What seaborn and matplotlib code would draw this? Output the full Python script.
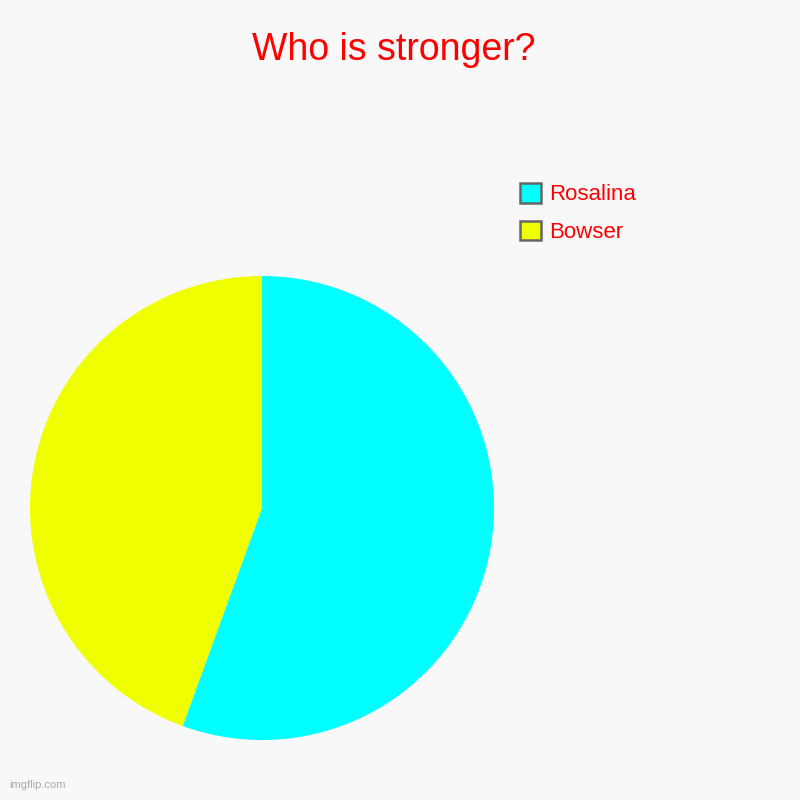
import matplotlib
matplotlib.use('Agg')
import matplotlib.pyplot as plt
import matplotlib.patches as mpatches
import seaborn as sns

# ── Data ─────────────────────────────────────────────────────────────
labels = ['Rosalina', 'Bowser']
values = [5, 4]
colors = ['#00ffff', '#f0ff00']
title = 'Who is stronger?'

# ── Style ────────────────────────────────────────────────────────────
sns.set_theme(style='white')
plt.rcParams['font.family'] = ['Liberation Sans', 'DejaVu Sans']
bg = '#f8f8f8'

fig = plt.figure(figsize=(8, 8), dpi=100, facecolor=bg)
ax = fig.add_axes([0.0375, 0.075, 0.58, 0.58])
ax.set_facecolor(bg)

ax.pie(values, colors=colors, startangle=90, counterclock=False,
       wedgeprops={'linewidth': 0})
ax.set_xlim(-1, 1)
ax.set_ylim(-1, 1)
ax.set_aspect('equal')

fig.text(0.492, 0.938, title, color='red', fontsize=27, ha='center', va='center')

# legend, drawn as boxes + labels
handles = [mpatches.Patch(facecolor=c, edgecolor='#666666', linewidth=1.8)
           for c in colors]
leg = fig.legend(handles, labels, loc='upper left', bbox_to_anchor=(0.636, 0.785),
                 frameon=False, fontsize=16, handlelength=0.97, handleheight=0.97,
                 handletextpad=0.35, labelspacing=0.7, borderpad=0)
for t in leg.get_texts():
    t.set_color('red')

fig.text(0.012, 0.012, 'imgflip.com', color='#aaaaaa', fontsize=8, ha='left', va='bottom')

fig.savefig('out.png', dpi=100, facecolor=bg)
